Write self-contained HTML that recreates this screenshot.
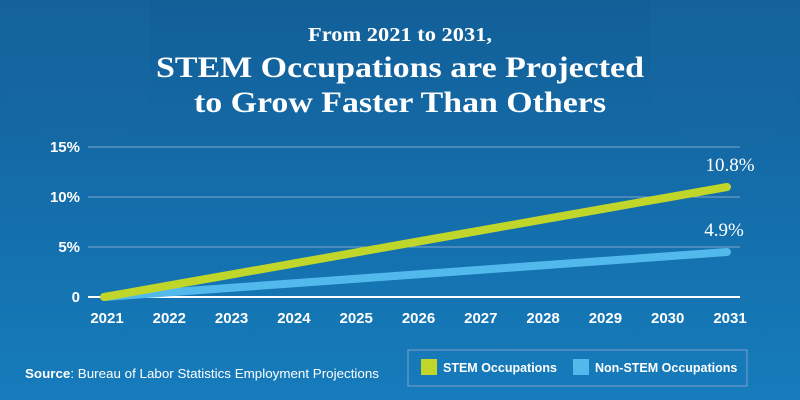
<!DOCTYPE html>
<html><head><meta charset="utf-8"><style>
body{margin:0;width:800px;height:400px;overflow:hidden}
svg{display:block}
text{font-family:"Liberation Sans",sans-serif;fill:#fff}
</style></head><body>
<svg id="chart" width="800" height="400" viewBox="0 0 800 400">
<defs><linearGradient id="bg" x1="0" y1="0" x2="0" y2="1"><stop offset="0" stop-color="#125f98"/><stop offset="1" stop-color="#167cbc"/></linearGradient></defs>
<rect width="800" height="400" fill="url(#bg)"/>
<path d="M0 60 Q0 130 60 140 L110 140 Q150 130 150 80 L150 0 L0 0Z" fill="#1a6aa3" opacity="0.35"/>
<path d="M650 0 L650 90 Q660 140 710 145 L750 145 Q800 130 800 70 L800 0Z" fill="#1a6aa3" opacity="0.35"/>
<g style="font-family:'Liberation Serif',serif;font-weight:bold" text-anchor="middle">
<text x="400" y="41" font-size="20" textLength="184" lengthAdjust="spacingAndGlyphs" style="font-family:'Liberation Serif',serif">From 2021 to 2031,</text>
<text x="400" y="77" font-size="30" textLength="488" lengthAdjust="spacingAndGlyphs" style="font-family:'Liberation Serif',serif">STEM Occupations are Projected</text>
<text x="400" y="112" font-size="30" textLength="412" lengthAdjust="spacingAndGlyphs" style="font-family:'Liberation Serif',serif">to Grow Faster Than Others</text>
</g>
<g id="grid"></g><g id="axes"></g><g id="series"></g>
<text x="25" y="378" font-size="13" textLength="354" lengthAdjust="spacingAndGlyphs"><tspan font-weight="bold">Source</tspan>: Bureau of Labor Statistics Employment Projections</text>
<g>
<rect x="408" y="350" width="339" height="36" fill="none" stroke="#5b93c6" stroke-width="1.5"/>
<rect x="421" y="359" width="16" height="16" fill="#c0d62a"/>
<text x="443" y="372" font-size="12.5" font-weight="bold">STEM Occupations</text>
<rect x="573" y="359" width="16" height="16" fill="#52b9ec"/>
<text x="595" y="372" font-size="12.5" font-weight="bold">Non-STEM Occupations</text>
</g>
</svg>
<script>
const years=[2021,2022,2023,2024,2025,2026,2027,2028,2029,2030,2031];
const stem=[0,1.1,2.2,3.3,4.4,5.5,6.6,7.7,8.8,9.9,11.0];
const nonStem=[0,0.45,0.9,1.35,1.8,2.25,2.7,3.15,3.6,4.05,4.5];
const yTicks=[0,5,10,15];
const yTickLabels=["0","5%","10%","15%"];
const endLabels=["10.8%","4.9%"];
const NS="http://www.w3.org/2000/svg";
const x=i=>104+i*62.3;
const y=v=>297-v*10;
function mk(tag,attrs,parent){const e=document.createElementNS(NS,tag);for(const k in attrs)e.setAttribute(k,attrs[k]);document.getElementById(parent).appendChild(e);return e;}
yTicks.forEach((t,i)=>{
 if(t>0){const g=mk('line',{x1:88,x2:740,y1:y(t),y2:y(t),stroke:'#7fa6cc','stroke-width':1},'grid');
 
 }
 const l=mk('text',{x:80,y:y(t)+5,'font-size':15,'font-weight':'bold','text-anchor':'end'},'axes');
 l.textContent=yTickLabels[i];
 
 
});
const ax=mk('line',{x1:88,x2:740,y1:y(0),y2:y(0),stroke:'#fff','stroke-width':2},'axes');


years.forEach((yr,i)=>{
 const t=mk('text',{x:x(i)+3,y:323,'font-size':15,'font-weight':'bold','text-anchor':'middle'},'axes');
 t.textContent=yr;
 
 
});
function line(data,color,name){
 const p=mk('polyline',{points:data.map((v,i)=>x(i)+','+y(v)).join(' '),fill:'none',stroke:color,'stroke-width':8,'stroke-linecap':'round','stroke-linejoin':'round'},'series');
 
 
}
line(nonStem,'#52b9ec','non-stem-line');
line(stem,'#c0d62a','stem-line');
const n=years.length-1;
const l1=mk('text',{x:x(n)+3,y:y(stem[n])-16,'font-size':19,'text-anchor':'middle',style:"font-family:'Liberation Serif',serif"},'series');
l1.textContent=endLabels[0];


const l2=mk('text',{x:x(n)-3,y:y(nonStem[n])-16,'font-size':19,'text-anchor':'middle',style:"font-family:'Liberation Serif',serif"},'series');
l2.textContent=endLabels[1];


</script>
</body></html>
